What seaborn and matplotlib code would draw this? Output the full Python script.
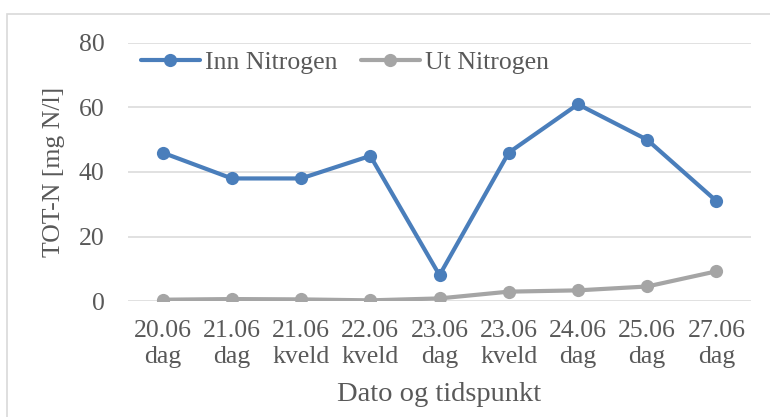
import matplotlib
matplotlib.use("Agg")
import matplotlib.pyplot as plt
import seaborn as sns
import pandas as pd
from matplotlib.patches import Rectangle

categories = ["20.06\ndag", "21.06\ndag", "21.06\nkveld", "22.06\nkveld", "23.06\ndag",
              "23.06\nkveld", "24.06\ndag", "25.06\ndag", "27.06\ndag"]
inn_nitrogen = [46, 38, 38, 45, 8, 46, 61, 50, 31]
ut_nitrogen = [0.4, 0.6, 0.5, 0.2, 0.8, 2.9, 3.3, 4.5, 9.2]
y_ticks = [0, 20, 40, 60, 80]

sns.set_theme(style="white")
plt.rcParams["font.family"] = ["Liberation Serif", "DejaVu Serif"]

df = pd.DataFrame({
    "x": list(range(len(categories))) * 2,
    "val": inn_nitrogen + ut_nitrogen,
    "serie": ["Inn Nitrogen"] * len(categories) + ["Ut Nitrogen"] * len(categories),
})

W, H = 770, 417
fig = plt.figure(figsize=(W / 100, H / 100), dpi=100)
fig.patches.append(Rectangle((7 / W, -0.1), 1.2, 1 - 14 / H + 0.1, transform=fig.transFigure,
                             fill=False, edgecolor="#D9D9D9", linewidth=1.2))
ax = fig.add_axes([128 / W, 1 - 301 / H, (751 - 128) / W, (301 - 43) / H])

sns.lineplot(data=df, x="x", y="val", hue="serie", palette=["#4A7EBB", "#A5A5A5"],
             marker="o", markersize=9.5, markeredgewidth=0, linewidth=3.0, ax=ax)

ax.set_xlim(-0.5, len(categories) - 0.5)
ax.set_ylim(0, 80)
ax.set_yticks(y_ticks)
ax.set_xticks(range(len(categories)))
ax.set_xticklabels(categories, linespacing=1.2)
txtc = "#595959"
fs = 18.5
ax.tick_params(axis="both", labelsize=fs, colors=txtc, length=0)
ax.tick_params(axis="x", pad=14)
ax.tick_params(axis="y", pad=17)
for s in ax.spines.values():
    s.set_visible(False)
ax.grid(axis="y", color="#D9D9D9", linewidth=1.1)
ax.set_axisbelow(True)
ax.set_xlabel("Dato og tidspunkt", fontsize=20.5, color=txtc, labelpad=10)
ax.set_ylabel("TOT-N [mg N/l]", fontsize=fs, color=txtc, labelpad=10)

leg = ax.legend(loc="upper left", bbox_to_anchor=(0.0, 1.02), ncol=2, frameon=False,
                fontsize=fs, handlelength=2.3, columnspacing=0.9, handletextpad=0.2,
                borderaxespad=0.2, borderpad=0.3)
for t in leg.get_texts():
    t.set_color(txtc)

fig.savefig("out.png", dpi=100)
